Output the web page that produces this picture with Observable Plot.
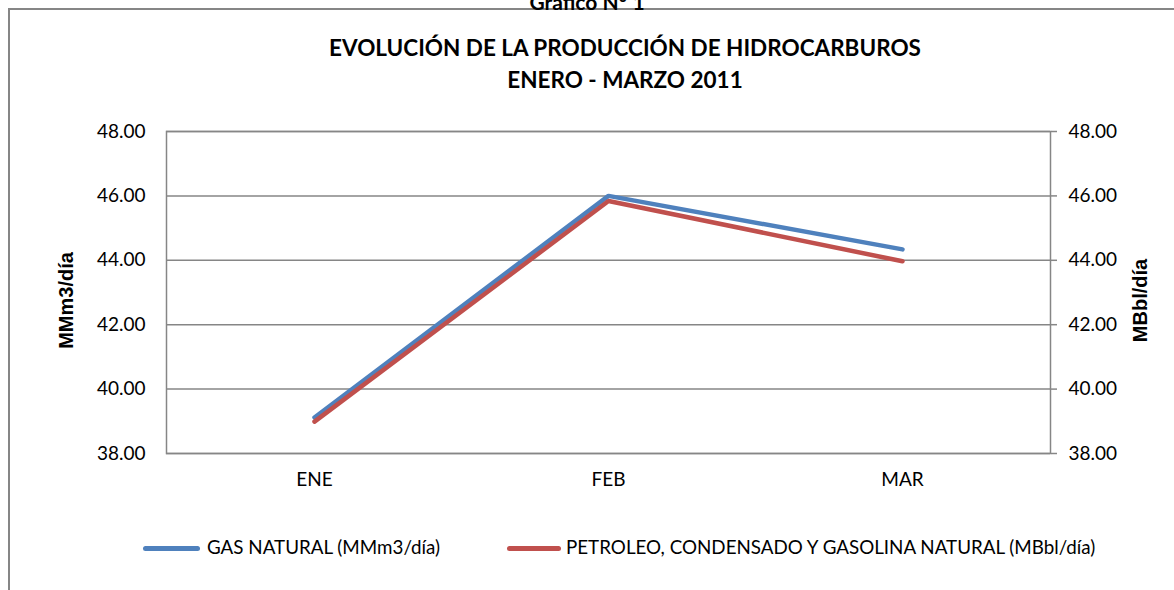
<!DOCTYPE html>
<html><head><meta charset="utf-8">
<script src="https://cdn.jsdelivr.net/npm/d3@7"></script>
<script src="https://cdn.jsdelivr.net/npm/@observablehq/plot@0.6"></script>
<style>
html,body{margin:0;padding:0;background:#fff;overflow:hidden;}
#page{position:relative;width:1174px;height:590px;font-family:Lato,"Open Sans",sans-serif;color:#000;}
#frame{position:absolute;left:8px;top:8px;width:1200px;height:700px;border:2px solid #868686;box-sizing:border-box;}
.t{position:absolute;left:0;width:1174px;text-align:center;font-weight:bold;}
#chart{position:absolute;left:0;top:100px;}
.lg{position:absolute;height:5px;border-radius:3px;}
.lt{position:absolute;font-size:18.8px;white-space:nowrap;}
</style></head>
<body><div id="page">
<div id="frame"></div>
<div class="t" style="top:-11px;font-size:21px;">Gráfico N° 1</div>
<div class="t" style="top:34px;left:38px;font-size:22.5px;">EVOLUCIÓN DE LA PRODUCCIÓN DE HIDROCARBUROS</div>
<div class="t" style="top:66px;left:38px;font-size:22.5px;">ENERO - MARZO 2011</div>
<div id="chart"></div>
<div class="lg" style="left:143px;width:57px;top:546px;background:#4F81BD;"></div>
<div class="lt" style="left:207px;top:535px;">GAS NATURAL (MMm3/día)</div>
<div class="lg" style="left:507px;width:54px;top:546px;background:#C0504D;"></div>
<div class="lt" style="left:566px;top:535px;">PETROLEO, CONDENSADO Y GASOLINA NATURAL (MBbl/día)</div>
</div>
<script>
const months = ["ENE", "FEB", "MAR"];
const gas = [39.12, 46.0, 44.34];
const petroleo = [38.99, 45.84, 43.97];
const yTicks = [38, 40, 42, 44, 46, 48];
const axisTitles = ["MMm3/día", "MBbl/día"];

const gasData = months.map((m, i) => ({month: m, value: gas[i]}));
const petData = months.map((m, i) => ({month: m, value: petroleo[i]}));

const grid = "#868686";
const chart = Plot.plot({
  width: 1174,
  height: 400,
  marginLeft: 166,
  marginRight: 124,
  marginTop: 31,
  marginBottom: 47,
  style: {fontFamily: "Lato, 'Open Sans', sans-serif", fontSize: "19px", color: "#000", background: "transparent"},
  x: {type: "point", domain: months, padding: 0.5},
  y: {domain: [38, 48]},
  marks: [
    Plot.ruleY(yTicks, {stroke: grid, strokeWidth: 1.5}),
    Plot.frame({stroke: grid, strokeWidth: 1.5}),
    Plot.axisY({anchor: "left", ticks: yTicks, tickFormat: d3.format(".2f"), tickSize: 0, tickPadding: 21, label: null}),
    Plot.axisY({anchor: "right", ticks: yTicks, tickFormat: d3.format(".2f"), tickSize: 6, tickPadding: 12, stroke: grid, strokeWidth: 1.5, label: null}),
    Plot.axisX({tickSize: 0, tickPadding: 19, label: null}),
    Plot.line(gasData, {x: "month", y: "value", stroke: "#4F81BD", strokeWidth: 4.5, strokeLinecap: "round", strokeLinejoin: "miter"}),
    Plot.line(petData, {x: "month", y: "value", stroke: "#C0504D", strokeWidth: 4.5, strokeLinecap: "round", strokeLinejoin: "miter"}),
    Plot.text([axisTitles[0]], {frameAnchor: "left", dx: -100, dy: 8, rotate: -90, textAnchor: "middle", fontWeight: "bold", fontSize: 20, fontFamily: "'Liberation Sans', Arial, sans-serif"}),
    Plot.text([axisTitles[1]], {frameAnchor: "right", dx: 90, dy: 8, rotate: -90, textAnchor: "middle", fontWeight: "bold", fontSize: 20, fontFamily: "'Liberation Sans', Arial, sans-serif"})
  ]
});
document.getElementById("chart").appendChild(chart);
</script>
</body></html>
